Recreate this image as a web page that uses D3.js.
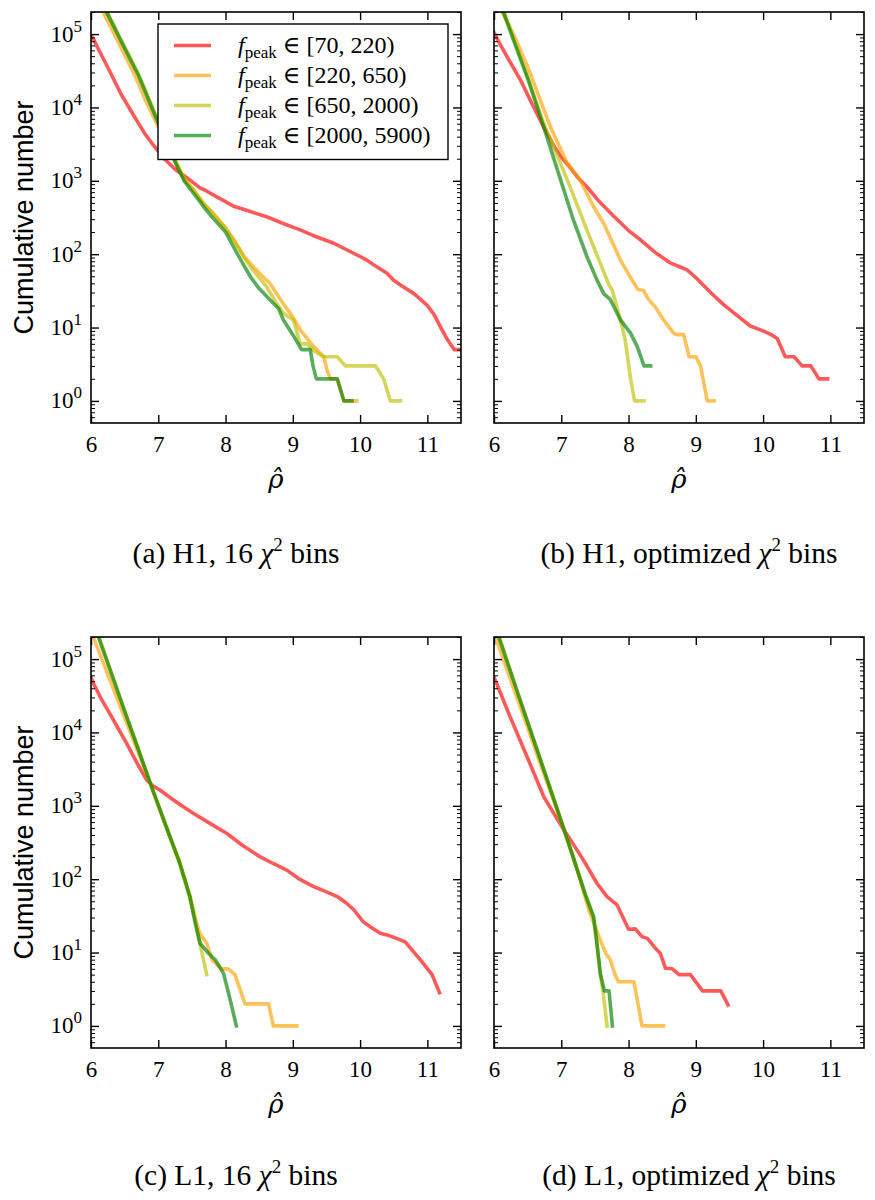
<!DOCTYPE html>
<html><head><meta charset="utf-8">
<script src="https://cdn.jsdelivr.net/npm/d3@7"></script>
<style>body{margin:0;background:#fff}svg{display:block}</style>
</head><body><svg id="c" width="875" height="1200"></svg>
<script>
// ---------- data: [rho, cumulative number] ----------
// (a) H1, 16 chi^2 bins
const aRed = [[6.0,95000],[6.03,88000],[6.1,65000],[6.25,35000],[6.45,15000],[6.6,8800],[6.7,6200],[6.8,4400],[6.9,3300],[7.0,2550],[7.1,1950],[7.245,1450],[7.44,1080],[7.62,800],[7.69,750],[7.89,590],[8.0,520],[8.12,450],[8.3,400],[8.45,360],[8.61,324],[8.8,275],[9.0,234],[9.11,214],[9.3,180],[9.45,160],[9.61,141],[9.8,115],[10.0,93],[10.1,83],[10.2,72],[10.3,63],[10.4,55],[10.5,44],[10.6,38],[10.8,29],[11.0,20],[11.1,15],[11.2,10],[11.3,6.8],[11.4,5],[11.5,5]];
const aOrange = [[6.18,200000],[6.3,120000],[6.45,64000],[6.6,34000],[6.7,21800],[6.8,13100],[6.95,6800],[7.1,3500],[7.2,2300],[7.3,1500],[7.39,1030],[7.5,800],[7.69,470],[7.8,375],[8.0,230],[8.15,145],[8.27,95],[8.415,67],[8.55,50],[8.66,40],[8.86,21],[9.0,14],[9.11,9.3],[9.31,5.5],[9.46,4],[9.51,2.6],[9.56,2],[9.66,2],[9.76,1],[9.95,1]];
const aYellow = [[6.24,200000],[6.3,155000],[6.45,82000],[6.6,45000],[6.7,29000],[6.8,18000],[6.95,8300],[7.1,3900],[7.2,2400],[7.3,1550],[7.39,1050],[7.5,800],[7.69,470],[7.8,370],[8.0,225],[8.15,140],[8.27,92],[8.4,62],[8.5,48],[8.61,36],[8.75,22],[8.86,15.7],[9.01,12.7],[9.11,6],[9.21,6],[9.33,4.7],[9.46,4],[9.66,4],[9.78,3],[10.23,3],[10.35,2],[10.45,1],[10.6,1]];
const aGreen = [[6.23,200000],[6.3,149000],[6.45,79000],[6.6,42000],[6.7,28000],[6.8,16900],[6.95,7900],[7.1,3700],[7.2,2270],[7.3,1440],[7.39,980],[7.5,720],[7.62,520],[7.69,425],[7.8,320],[8.0,200],[8.17,103],[8.37,49],[8.5,34],[8.66,24],[8.79,18],[8.86,12.7],[9.0,8],[9.13,5],[9.26,5],[9.3,3],[9.35,2],[9.66,2],[9.76,1],[9.88,1]];
// (b) H1, optimized chi^2 bins
const bRed = [[6.0,105000],[6.1,70000],[6.2,48000],[6.39,24000],[6.55,12000],[6.74,5400],[6.9,2900],[7.0,2100],[7.135,1500],[7.25,1100],[7.38,830],[7.55,540],[7.78,330],[8.0,210],[8.18,156],[8.4,105],[8.62,76],[8.75,68],[8.87,61],[9.0,48],[9.22,30],[9.4,21],[9.57,15.7],[9.81,10.5],[9.96,9.3],[10.1,8.2],[10.21,7.1],[10.33,4],[10.46,4],[10.58,3],[10.71,3],[10.83,2],[10.96,2]];
const bOrange = [[6.12,200000],[6.3,95000],[6.5,36000],[6.84,5400],[7.08,1800],[7.28,1030],[7.48,443],[7.63,264],[7.88,83],[8.05,44.6],[8.14,33],[8.22,32],[8.3,24],[8.4,19],[8.52,12.7],[8.67,8.4],[8.72,8],[8.82,8],[8.9,4],[9.0,4],[9.07,3],[9.17,1],[9.27,1]];
const bYellow = [[6.15,200000],[6.5,26000],[6.74,6000],[6.9,2700],[7.09,1030],[7.38,214],[7.58,75],[7.71,38],[7.76,32],[7.88,12.7],[7.95,6.8],[8.03,2],[8.09,1],[8.23,1]];
const bGreen = [[6.14,200000],[6.3,78000],[6.5,25000],[6.74,5400],[6.99,1030],[7.18,293],[7.38,93],[7.53,44.6],[7.63,29],[7.73,24],[7.88,12.7],[8.03,8.4],[8.13,5.5],[8.23,3],[8.33,3]];
// (c) L1, 16 chi^2 bins
const cRed = [[6.0,56000],[6.05,44000],[6.15,29000],[6.28,18000],[6.4,11500],[6.53,7100],[6.7,3600],[6.83,2240],[6.93,1850],[7.03,1630],[7.2,1250],[7.35,1000],[7.52,790],[7.75,590],[8.02,420],[8.25,290],[8.51,203],[8.7,165],[8.91,133],[9.1,100],[9.31,79],[9.5,67],[9.66,58],[9.8,47],[9.91,38],[10.05,26],[10.2,21],[10.3,18.3],[10.4,17.4],[10.55,15.5],[10.67,14],[10.9,7.9],[11.07,5],[11.18,2.84]];
const cOrange = [[6.035,200000],[6.3,47000],[6.5,16000],[6.7,5400],[6.9,1820],[7.1,560],[7.32,170],[7.47,60],[7.57,25],[7.62,18],[7.72,13.4],[7.8,7.9],[7.94,6],[8.04,6],[8.14,5],[8.29,2],[8.64,2],[8.71,1],[9.06,1]];
const cYellow = [[6.12,200000],[6.3,66000],[6.5,19500],[6.7,6000],[6.9,1820],[7.1,570],[7.32,160],[7.47,55],[7.56,25],[7.62,13],[7.72,5]];
const cGreen = [[6.11,200000],[6.3,65000],[6.5,19500],[6.7,6000],[6.9,1820],[7.1,580],[7.32,165],[7.47,58],[7.55,25],[7.62,13.4],[7.75,9.7],[7.85,7.9],[7.97,5.2],[8.07,2.26],[8.16,1]];
// (d) L1, optimized chi^2 bins
const dRed = [[6.0,56000],[6.05,44000],[6.24,16300],[6.49,4700],[6.74,1330],[6.9,760],[7.04,468],[7.2,280],[7.33,182],[7.53,88],[7.68,58],[7.83,44.6],[8.0,20.8],[8.1,21],[8.2,16.5],[8.28,15.6],[8.38,12],[8.47,9.8],[8.55,6.1],[8.65,6],[8.75,5],[8.92,5],[9.1,3],[9.37,3],[9.48,1.93]];
const dOrange = [[6.02,200000],[6.3,38000],[6.5,11700],[6.7,3500],[6.9,1100],[7.06,422],[7.2,175],[7.41,38],[7.56,16.5],[7.66,9.8],[7.73,7.9],[7.8,5],[7.85,4],[8.08,4],[8.2,1],[8.52,1]];
const dYellow = [[6.08,200000],[6.3,48000],[6.5,13800],[6.7,4000],[6.9,1150],[7.06,422],[7.2,171],[7.36,60],[7.48,30],[7.53,13],[7.58,5],[7.62,3],[7.68,1]];
const dGreen = [[6.07,200000],[6.3,48000],[6.5,13800],[6.7,4000],[6.9,1150],[7.06,422],[7.2,171],[7.36,61],[7.48,31],[7.53,13.4],[7.58,5.2],[7.64,3],[7.71,3],[7.76,1]];

const seriesColors = ["#ff0000", "#ffa000", "#bfbf00", "#008000"];
const legendRanges = ["[70, 220)", "[220, 650)", "[650, 2000)", "[2000, 5900)"];
const xTicks = [6, 7, 8, 9, 10, 11];
const yMajor = [1, 10, 100, 1000, 10000, 100000];
const yMinor = [0.6, 0.7, 0.8, 0.9].concat(...[1, 10, 100, 1000, 10000].map(b => [2,3,4,5,6,7,8,9].map(m => m * b)), [200000]);
const captions = [["(a) H1, 16 ", " bins"], ["(b) H1, optimized ", " bins"], ["(c) L1, 16 ", " bins"], ["(d) L1, optimized ", " bins"]];

// ---------- layout ----------
const panels = [
  {data: [aRed, aOrange, aYellow, aGreen], box: [91, 461, 12, 423], yLabels: true, legend: true, capX: 236, capY: 563},
  {data: [bRed, bOrange, bYellow, bGreen], box: [494, 864, 12, 423], yLabels: false, legend: false, capX: 689, capY: 563},
  {data: [cRed, cOrange, cYellow, cGreen], box: [91, 461, 637, 1048], yLabels: true, legend: false, capX: 236, capY: 1185},
  {data: [dRed, dOrange, dYellow, dGreen], box: [494, 864, 637, 1048], yLabels: false, legend: false, capX: 689, capY: 1185}
];
const serif = "'Liberation Serif', 'DejaVu Serif', serif";
const sans = "'Liberation Sans', Arial, sans-serif";
const svg = d3.select('#c');

panels.forEach((p, i) => {
  const [x0, x1, y0, y1] = p.box;
  const x = d3.scaleLinear().domain([6, 11.5]).range([x0, x1]);
  const y = d3.scaleLog().domain([0.5, 2e5]).range([y1, y0]);
  const g = svg.append('g');
  const clipId = 'clip' + i;
  svg.append('clipPath').attr('id', clipId).append('rect')
    .attr('x', x0).attr('y', y0).attr('width', x1 - x0).attr('height', y1 - y0);

  const line = d3.line().x(d => x(d[0])).y(d => y(d[1]));
  const lg = g.append('g').attr('clip-path', `url(#${clipId})`);
  p.data.forEach((s, j) => {
    lg.append('path').attr('d', line(s)).attr('fill', 'none')
      .attr('stroke', seriesColors[j]).attr('stroke-opacity', 0.65)
      .attr('stroke-width', 3.6).attr('stroke-linejoin', 'round').attr('stroke-linecap', 'square');
  });

  const styleAxis = (sel, w) => {
    sel.select('.domain').remove();
    sel.selectAll('.tick line').attr('stroke', '#000').attr('stroke-width', w);
  };
  // x axes
  const xb = g.append('g').attr('transform', `translate(0,${y1})`)
    .call(d3.axisBottom(x).tickValues(xTicks).tickSize(-8).tickSizeOuter(0).tickFormat(d3.format('d')));
  styleAxis(xb, 1.4);
  xb.selectAll('.tick text').attr('y', 29).attr('dy', null)
    .style('font-family', serif).style('font-size', '23px').attr('fill', '#000');
  const xt = g.append('g').attr('transform', `translate(0,${y0})`)
    .call(d3.axisTop(x).tickValues(xTicks).tickSize(-8).tickSizeOuter(0).tickFormat(''));
  styleAxis(xt, 1.4);
  // y axes
  const yl = g.append('g').attr('transform', `translate(${x0},0)`)
    .call(d3.axisLeft(y).tickValues(yMajor).tickSize(-8).tickSizeOuter(0));
  styleAxis(yl, 1.4);
  const ylm = g.append('g').attr('transform', `translate(${x0},0)`)
    .call(d3.axisLeft(y).tickValues(yMinor).tickSize(-4).tickSizeOuter(0).tickFormat(''));
  styleAxis(ylm, 1);
  const yr = g.append('g').attr('transform', `translate(${x1},0)`)
    .call(d3.axisRight(y).tickValues(yMajor).tickSize(-8).tickSizeOuter(0).tickFormat(''));
  styleAxis(yr, 1.4);
  const yrm = g.append('g').attr('transform', `translate(${x1},0)`)
    .call(d3.axisRight(y).tickValues(yMinor).tickSize(-4).tickSizeOuter(0).tickFormat(''));
  styleAxis(yrm, 1);
  if (p.yLabels) {
    yl.selectAll('.tick text').each(function(d) {
      const t = d3.select(this);
      t.text('').attr('x', -9).attr('y', 7).attr('dy', null)
        .style('font-family', serif).style('font-size', '23px').attr('fill', '#000').attr('text-anchor', 'end');
      t.append('tspan').text('10');
      t.append('tspan').attr('dy', -10).style('font-size', '17px').text(Math.round(Math.log10(d)));
    });
    svg.append('text')
      .attr('transform', `translate(33,${(y0 + y1) / 2}) rotate(-90)`)
      .attr('text-anchor', 'middle').style('font-family', sans).style('font-size', '27px')
      .text('Cumulative number');
  } else {
    yl.selectAll('.tick text').remove();
  }

  // frame
  g.append('rect').attr('x', x0).attr('y', y0).attr('width', x1 - x0).attr('height', y1 - y0)
    .attr('fill', 'none').attr('stroke', '#000').attr('stroke-width', 1.6);

  // x label rho-hat (combining circumflex, font with mark positioning)
  const xm = (x0 + x1) / 2;
  svg.append('text').attr('x', xm).attr('y', y1 + 65).attr('text-anchor', 'middle')
    .style('font-family', "'DejaVu Serif', serif").style('font-size', '26px').style('font-style', 'italic')
    .text('ρ\u0302');

  // caption
  const cap = svg.append('text').attr('x', p.capX).attr('y', p.capY).attr('text-anchor', 'middle')
    .style('font-family', serif).style('font-size', '29.5px');
  cap.append('tspan').text(captions[i][0]);
  cap.append('tspan').style('font-style', 'italic').text('χ');
  cap.append('tspan').attr('dy', -12).style('font-size', '19px').text('2');
  cap.append('tspan').attr('dy', 12).text(captions[i][1]);

  // legend
  if (p.legend) {
    const lgd = g.append('g');
    lgd.append('rect').attr('x', 158).attr('y', 24).attr('width', 290).attr('height', 135.5)
      .attr('fill', '#fff').attr('stroke', '#000').attr('stroke-width', 1.4);
    legendRanges.forEach((r, j) => {
      const ry = 45.5 + 30 * j;
      lgd.append('line').attr('x1', 174).attr('x2', 211).attr('y1', ry).attr('y2', ry)
        .attr('stroke', seriesColors[j]).attr('stroke-opacity', 0.65).attr('stroke-width', 3.6);
      const t = lgd.append('text').attr('x', 238).attr('y', ry + 7)
        .style('font-family', serif).style('font-size', '24px');
      t.append('tspan').style('font-style', 'italic').text('f');
      t.append('tspan').style('font-size', '17px').attr('dy', 5).text('peak');
      t.append('tspan').attr('dy', -5).text(' ∈ ' + r);
    });
  }
});
</script>
</body></html>
